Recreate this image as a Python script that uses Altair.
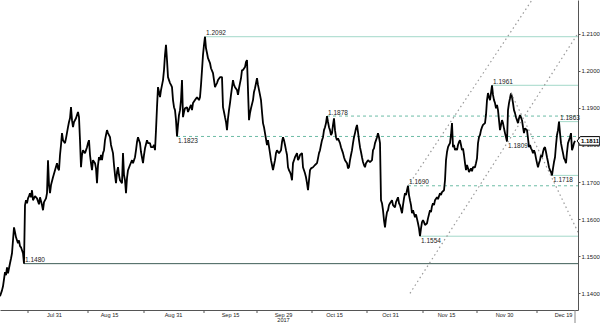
import altair as alt
import pandas as pd

# ---- EUR/USD price path: (bar index, close) ----
seg_jul = [(0,1.1392),(2,1.1408),(3,1.1419),(5,1.1457),(6,1.1449),(7,1.1470),(8,1.1454),(10,1.1481),(11,1.1494),(12,1.1508),
 (13,1.1543),(14,1.1578),(15,1.1565),(16,1.1551),(17,1.1543),(18,1.1535),(19,1.1543),(20,1.1527),(21,1.1524),(22,1.1516),
 (23,1.1508),(24,1.1480),(25,1.1638),(26,1.1651),(27,1.1643),(28,1.1656),(29,1.1662),(30,1.1670),(31,1.1659),(32,1.1678),
 (33,1.1651),(35,1.1662),(37,1.1656),(39,1.1640),(40,1.1659),(42,1.1638),(43,1.1624),(44,1.1646),(46,1.1656),(47,1.1670),
 (48,1.1759),(49,1.1692),(50,1.1670),(51,1.1692),(53,1.1713),(55,1.1732),(57,1.1751),(58,1.1737),(59,1.1732),(60,1.1773),
 (61,1.1800),(62,1.1832),(63,1.1813),(65,1.1805),(66,1.1818),(68,1.1848),(69,1.1862),(70,1.1872),(71,1.1902),(72,1.1867),
 (73,1.1848),(74,1.1862),(76,1.1872),(77,1.1881),(78,1.1889),(79,1.1875),(80,1.1813),(81,1.1740),(82,1.1773),(83,1.1786),
 (85,1.1778),(87,1.1794),(88,1.1805),(89,1.1813),(90,1.1773),(91,1.1751),(92,1.1732),(93,1.1759),(95,1.1751),(96,1.1737),
 (97,1.1697),(98,1.1746),(99,1.1767)]
seg_aug = [(100,1.1759),(101,1.1773),(102,1.1759),(103,1.1778),(104,1.1786),(105,1.1813),(106,1.1827),(107,1.1840),(108,1.1832),
 (110,1.1821),(111,1.1800),(113,1.1778),(114,1.1746),(115,1.1719),(116,1.1697),(117,1.1727),(118,1.1740),(119,1.1719),(120,1.1705),
 (122,1.1697),(123,1.1778),(124,1.1719),(125,1.1705),(126,1.1670),(127,1.1711),(128,1.1732),(130,1.1746),(132,1.1759),(133,1.1751),
 (135,1.1767),(136,1.1786),(137,1.1808),(138,1.1821),(139,1.1813),(140,1.1805),(141,1.1781),(143,1.1751),(144,1.1773),(145,1.1791),
 (147,1.1813),(148,1.1805),(150,1.1805),(151,1.1794),(153,1.1794),(154,1.1800),(155,1.1786),(156,1.1840),(157,1.1902),(158,1.1956),
 (159,1.1943),(160,1.1929),(161,1.1948),(163,1.1975),(164,1.2002),(165,1.2043),(166,1.2070),(167,1.2029),(168,1.1983),(169,1.1975),
 (170,1.1967),(171,1.1962),(172,1.1956),(173,1.1921),(174,1.1902),(175,1.1894),(176,1.1867),(177,1.1823),(178,1.1854),(179,1.1881),
 (180,1.1894),(181,1.1921),(182,1.1975),(183,1.1875),(184,1.1889),(185,1.1899),(187,1.1902),(188,1.1889),(190,1.1902),(191,1.1908),
 (192,1.1894),(193,1.1913),(195,1.1921),(197,1.1929),(199,1.1921),(200,1.1929)]
seg_sep = [(201,1.1962),(202,1.2002),(203,1.2043),(204,1.2070),(205,1.2092),(206,1.2061),(207,1.2048),(208,1.2034),(210,1.2021),
 (211,1.2007),(213,1.1994),(214,1.1975),(215,1.1956),(216,1.1962),(217,1.1967),(218,1.1975),(220,1.1983),(222,1.1983),(223,1.1902),
 (224,1.1889),(225,1.1875),(226,1.1862),(227,1.1840),(228,1.1872),(229,1.1894),(230,1.1913),(231,1.1935),(233,1.1975),(234,1.1962),
 (235,1.1956),(237,1.1948),(238,1.1935),(239,1.1953),(240,1.1967),(241,1.1980),(242,1.2002),(243,1.2002),(245,1.2010),(246,1.2024),
 (247,1.2029),(248,1.1948),(249,1.1867),(250,1.1886),(251,1.1899),(253,1.1921),(254,1.1943),(255,1.1953),(257,1.1980),(258,1.1962),
 (260,1.1935),(261,1.1921),(262,1.1889),(263,1.1859),(264,1.1848),(265,1.1832),(267,1.1800),(268,1.1813),(270,1.1778),(271,1.1759),
 (272,1.1746),(273,1.1732),(274,1.1746),(275,1.1759),(276,1.1778),(277,1.1786),(279,1.1778),(281,1.1786),(282,1.1808),(283,1.1821),
 (284,1.1813),(285,1.1800),(286,1.1786),(287,1.1773),(288,1.1740),(289,1.1732),(290,1.1727),(291,1.1719),(292,1.1705),(293,1.1751),
 (294,1.1759),(295,1.1767),(297,1.1778),(298,1.1759),(299,1.1764),(300,1.1773)]
seg_oct = [(302,1.1778),(303,1.1740),(304,1.1732),(305,1.1724),(306,1.1713),(307,1.1697),(308,1.1678),(309,1.1705),(310,1.1732),
 (311,1.1737),(313,1.1740),(315,1.1746),(317,1.1751),(318,1.1764),(319,1.1778),(320,1.1786),(321,1.1800),(322,1.1813),(323,1.1821),
 (324,1.1840),(325,1.1848),(326,1.1859),(327,1.1878),(328,1.1862),(329,1.1848),(330,1.1840),(331,1.1827),(332,1.1832),(333,1.1854),
 (334,1.1872),(335,1.1840),(336,1.1821),(337,1.1813),(338,1.1818),(340,1.1805),(341,1.1794),(343,1.1778),(344,1.1767),(345,1.1759),
 (347,1.1751),(348,1.1737),(349,1.1740),(350,1.1759),(351,1.1773),(352,1.1786),(353,1.1805),(354,1.1821),(355,1.1832),(356,1.1845),
 (357,1.1854),(358,1.1835),(359,1.1813),(360,1.1794),(361,1.1781),(362,1.1767),(363,1.1754),(364,1.1746),(365,1.1740),(366,1.1751),
 (368,1.1759),(370,1.1754),(372,1.1759),(373,1.1786),(374,1.1791),(375,1.1805),(376,1.1813),(377,1.1821),(378,1.1832),(379,1.1821),
 (380,1.1805),(381,1.1651),(382,1.1643),(383,1.1624),(384,1.1597),(385,1.1578),(386,1.1602),(387,1.1619),(388,1.1624),(389,1.1638),
 (390,1.1643),(392,1.1651),(393,1.1638),(395,1.1632),(396,1.1646),(398,1.1659),(399,1.1643),(400,1.1638)]
seg_nov = [(402,1.1616),(403,1.1638),(404,1.1656),(405,1.1670),(406,1.1665),(407,1.1678),(408,1.1690),(409,1.1665),(410,1.1651),
 (411,1.1638),(412,1.1616),(413,1.1624),(415,1.1605),(416,1.1613),(418,1.1589),(419,1.1575),(420,1.1554),(421,1.1575),(422,1.1592),
 (423,1.1597),(424,1.1592),(425,1.1584),(427,1.1589),(428,1.1602),(430,1.1624),(431,1.1619),(432,1.1635),(433,1.1643),(434,1.1638),
 (435,1.1651),(437,1.1659),(438,1.1654),(440,1.1670),(441,1.1665),(442,1.1673),(444,1.1678),(445,1.1705),(446,1.1759),(447,1.1781),
 (448,1.1794),(449,1.1800),(450,1.1805),(451,1.1827),(452,1.1859),(453,1.1794),(454,1.1800),(455,1.1786),(456,1.1791),(457,1.1786),
 (458,1.1800),(459,1.1808),(460,1.1813),(461,1.1800),(462,1.1786),(463,1.1791),(464,1.1773),(465,1.1751),(466,1.1732),(467,1.1746),
 (468,1.1737),(469,1.1727),(470,1.1732),(471,1.1737),(472,1.1729),(473,1.1740),(475,1.1740),(476,1.1751),(477,1.1764),(478,1.1805),
 (479,1.1821),(480,1.1827),(481,1.1840),(482,1.1848),(483,1.1854),(485,1.1859),(486,1.1881),(487,1.1921),(488,1.1940),(489,1.1929),
 (490,1.1921),(491,1.1940),(492,1.1961),(493,1.1935),(494,1.1921),(495,1.1913),(496,1.1899),(497,1.1908),(498,1.1894),(499,1.1867),
 (500,1.1840)]
seg_dec = [(501,1.1854),(502,1.1867),(503,1.1859),(504,1.1845),(505,1.1832),(506,1.1821),(507,1.1809),(508,1.1894),(509,1.1913),
 (510,1.1926),(511,1.1940),(512,1.1929),(513,1.1913),(514,1.1894),(515,1.1886),(516,1.1875),(517,1.1867),(518,1.1859),(519,1.1872),
 (520,1.1881),(522,1.1867),(523,1.1848),(524,1.1832),(525,1.1845),(527,1.1840),(528,1.1818),(529,1.1794),(530,1.1800),(531,1.1791),
 (532,1.1786),(533,1.1778),(534,1.1786),(535,1.1778),(536,1.1764),(537,1.1751),(538,1.1740),(539,1.1751),(540,1.1759),(541,1.1773),
 (542,1.1767),(543,1.1781),(544,1.1791),(545,1.1794),(546,1.1781),(547,1.1767),(548,1.1754),(549,1.1740),(550,1.1732),(551,1.1727),
 (552,1.1718),(553,1.1737),(554,1.1754),(555,1.1767),(556,1.1800),(557,1.1827),(558,1.1840),(559,1.1863),(560,1.1832),(561,1.1805),
 (562,1.1791),(563,1.1778),(564,1.1764),(565,1.1759),(566,1.1751),(567,1.1781),(568,1.1805),(569,1.1813),(570,1.1821),(571,1.1832),
 (572,1.1786),(573,1.1794),(574,1.1805),(575,1.1811)]

# ---- horizontal support / resistance levels ----
level_value = [1.2092, 1.1961, 1.1878, 1.1863, 1.1823, 1.1718, 1.1690, 1.1554, 1.1480]
level_start = [205, 492, 327, 559, 177, 552, 408, 420, 24]
level_style = ["solid", "solid", "dashed", "solid", "dashed", "solid", "dashed", "solid", "dark"]
level_side = ["above", "above", "above", "above", "below", "below", "above", "below", "above"]
extra_label_bar = [507]
extra_label_value = [1.1809]

# ---- trend channel lines (dotted) ----
chan_id = ["up_a", "up_a", "up_b", "up_b", "down", "down"]
chan_bar = [408, 532, 410, 577, 511, 578]
chan_price = [1.1690, 1.2191, 1.1400, 1.2097, 1.1940, 1.1565]

# ---- axes ----
xlabel_bar = [54, 109, 173, 230, 283, 334, 390, 446, 504, 563]
xlabel_text = ["Jul 31", "Aug 15", "Aug 31", "Sep 15", "Sep 29", "Oct 15", "Oct 31", "Nov 15", "Nov 30", "Dec 19"]
xtick_bar = [28, 88, 144, 204, 257, 312, 367, 423, 477, 537]
year_label = "2017"
y_ticks = [1.14, 1.15, 1.16, 1.17, 1.18, 1.19, 1.20, 1.21]
last_bar = 575
last_close = 1.1811

FONT = "Liberation Sans"
BAR_MAX = 578
x_scale = alt.Scale(domain=[0, BAR_MAX], nice=False, zero=False)
y_scale = alt.Scale(domain=[1.1355, 1.2191], nice=False, zero=False)

price = pd.DataFrame(seg_jul + seg_aug + seg_sep + seg_oct + seg_nov + seg_dec, columns=["bar", "close"])
levels = pd.DataFrame({"value": level_value, "start": level_start, "style": level_style, "side": level_side})
levels["end"] = BAR_MAX
levels["label"] = levels["value"].map(lambda v: f"{v:.4f}")
extra = pd.DataFrame({"bar": extra_label_bar, "value": extra_label_value})
extra["label"] = extra["value"].map(lambda v: f"{v:.4f}")
chan = pd.DataFrame({"id": chan_id, "bar": chan_bar, "price": chan_price})
ticks = pd.DataFrame({"bar": xtick_bar})
last = pd.DataFrame({"bar": [last_bar], "close": [last_close], "label": [f"{last_close:.4f}"]})

parts = []
for b, t in zip(xlabel_bar, xlabel_text):
    if t == "Sep 29":
        parts.append(f"datum.value == {b} ? ['{t}', '{year_label}']")
    else:
        parts.append(f"datum.value == {b} ? '{t}'")
label_expr = " : ".join(parts) + " : ''"

x_axis = alt.Axis(
    values=xlabel_bar, labelExpr=label_expr, tickSize=0, grid=False, title=None,
    domainColor="#555", labelFont=FONT, labelFontSize=5.6, labelColor="#222",
    labelPadding=2, labelLineHeight=5.6, labelAngle=0, labelOverlap=False)
y_axis = alt.Axis(
    orient="right", values=y_ticks, format=".4f", tickSize=2, grid=False, title=None,
    domainColor="#555", tickColor="#555", labelFont=FONT, labelFontSize=6,
    labelColor="#222", labelPadding=1, labelOverlap=False)


def X(f):
    return alt.X(f, type="quantitative", scale=x_scale, axis=x_axis)


def Y(f):
    return alt.Y(f, type="quantitative", scale=y_scale, axis=y_axis)


price_line = alt.Chart(price).mark_line(color="black", strokeWidth=1.8, clip=True, strokeJoin="bevel").encode(
    x=X("bar"), y=Y("close"))

solid = alt.Chart(levels).transform_filter("datum.style == 'solid'").mark_rule(
    color="#a3d8c9", strokeWidth=1).encode(x=X("start"), x2="end", y=Y("value"))
dark = alt.Chart(levels).transform_filter("datum.style == 'dark'").mark_rule(
    color="#3e5e57", strokeWidth=1).encode(x=X("start"), x2="end", y=Y("value"))
dashed = alt.Chart(levels).transform_filter("datum.style == 'dashed'").mark_rule(
    color="#6cbca6", strokeWidth=1, strokeDash=[3, 3]).encode(x=X("start"), x2="end", y=Y("value"))

channels = alt.Chart(chan).mark_line(color="#9a9a9a", strokeWidth=1.2, strokeDash=[1.5, 3], clip=True).encode(
    x=X("bar"), y=Y("price"), detail="id:N")

lab_above = alt.Chart(levels).transform_filter("datum.side == 'above'").mark_text(
    font=FONT, fontSize=6.5, color="#222", align="left", baseline="bottom", dx=1, dy=-0.5).encode(
    x=X("start"), y=Y("value"), text="label:N")
lab_below = alt.Chart(levels).transform_filter("datum.side == 'below'").mark_text(
    font=FONT, fontSize=6.5, color="#222", align="left", baseline="top", dx=1, dy=1.5).encode(
    x=X("start"), y=Y("value"), text="label:N")
lab_extra = alt.Chart(extra).mark_text(
    font=FONT, fontSize=6.5, color="#222", align="left", baseline="top", dx=1, dy=1.5).encode(
    x=X("bar"), y=Y("value"), text="label:N")

xticks = alt.Chart(ticks).mark_rule(color="#555", strokeWidth=1).encode(
    x=X("bar"), y=alt.value(310), y2=alt.value(313))
now_rule = alt.Chart(last).mark_rule(color="#888", strokeWidth=1).encode(
    x=X("bar"), y=alt.value(310), y2=alt.value(323))

tag = alt.Chart(last).mark_point(
    shape="M-1.15,0L-0.85,-0.42L1.05,-0.42L1.05,0.42L-0.85,0.42Z", size=420, filled=True,
    fill="white", stroke="black", strokeWidth=1, opacity=1).encode(
    x=alt.value(589), y=Y("close"))
tag_text = alt.Chart(last).mark_text(font=FONT, fontSize=6, fontWeight="bold", color="black",
    align="center", baseline="middle").encode(x=alt.value(590), y=Y("close"), text="label:N")

chart = alt.layer(
    solid, dark, dashed, price_line, channels, lab_above, lab_below, lab_extra,
    xticks, now_rule, tag, tag_text
).properties(
    width=578, height=310,
    autosize=alt.AutoSizeParams(type="none"),
    padding={"left": 0, "top": 0, "right": 22, "bottom": 13},
    background="white",
).configure_view(stroke=None)

chart.save("out.html", embed_options={"renderer": "svg", "actions": False})
